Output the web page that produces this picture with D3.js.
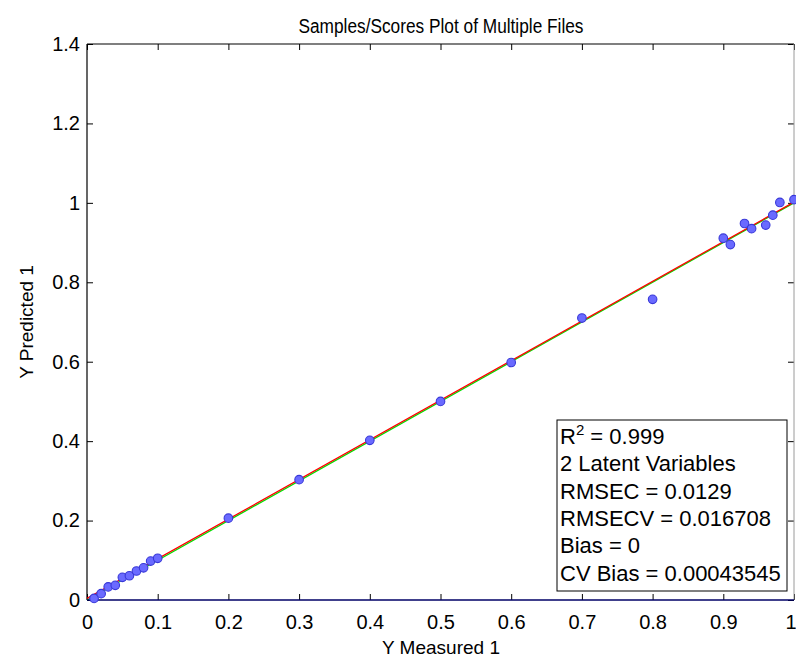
<!DOCTYPE html>
<html>
<head>
<meta charset="utf-8">
<script src="https://cdn.jsdelivr.net/npm/d3@7"></script>
<style>
  body { margin: 0; background: #fff; }
  text { font-family: "Liberation Sans", Arial, Helvetica, sans-serif; fill: #000; }
</style>
</head>
<body>
<svg id="chart" width="796" height="659"></svg>
<script>
// Calibration samples: measured vs predicted response
const measured  = [0.01, 0.02, 0.03, 0.04, 0.05, 0.06, 0.07, 0.08, 0.09, 0.10,
                   0.20, 0.30, 0.40, 0.50, 0.60, 0.70, 0.80,
                   0.90, 0.91, 0.93, 0.94, 0.96, 0.97, 0.98, 1.00];
const predicted = [0.004, 0.016, 0.033, 0.037, 0.057, 0.061, 0.073, 0.081, 0.098, 0.105,
                   0.206, 0.303, 0.402, 0.500, 0.598, 0.710, 0.757,
                   0.911, 0.895, 0.948, 0.935, 0.944, 0.969, 1.001, 1.008];

// Regression fit (red) and ideal 1:1 target (green)
const fitIntercept = 0.004;
const fitSlope = 0.998;
const targetIntercept = 0;
const targetSlope = 1;

const xTickValues = [0, 0.1, 0.2, 0.3, 0.4, 0.5, 0.6, 0.7, 0.8, 0.9, 1];
const yTickValues = [0, 0.2, 0.4, 0.6, 0.8, 1, 1.2, 1.4];

const titleText = "Samples/Scores Plot of Multiple Files";
const xLabelText = "Y Measured 1";
const yLabelText = "Y Predicted 1";
const statsLines = ["= 0.999", "2 Latent Variables", "RMSEC = 0.0129",
                    "RMSECV = 0.016708", "Bias = 0", "CV Bias = 0.00043545"];

const svg = d3.select("#chart");
svg.append("rect").attr("width", 796).attr("height", 659).attr("fill", "#fff");

const plotLeft = 87, plotRight = 794, plotTop = 44, plotBottom = 600;
const x = d3.scaleLinear().domain([0, 1]).range([plotLeft, plotRight]);
const y = d3.scaleLinear().domain([0, 1.4]).range([plotBottom, plotTop]);

const tickLen = 6;
const tickFont = 20;
const fmt = d => String(+d.toFixed(1));

// Bottom axis: labels below, ticks pointing inward
const gx = svg.append("g").attr("transform", `translate(0,${plotBottom})`)
  .call(d3.axisBottom(x).tickValues(xTickValues).tickSize(-tickLen)
    .tickPadding(15).tickFormat(fmt));
gx.select(".domain").remove();
gx.selectAll("text").attr("font-size", tickFont)
  .style("font-family", "'Liberation Sans', Arial, sans-serif");
gx.selectAll("line").attr("stroke", "#000");
// keep the last label inside the page edge
gx.selectAll(".tick text").filter(d => d === xTickValues[xTickValues.length - 1])
  .attr("text-anchor", "end").attr("dx", 796 - plotRight);

// Top axis ticks only
const gxt = svg.append("g").attr("transform", `translate(0,${plotTop})`)
  .call(d3.axisTop(x).tickValues(xTickValues).tickSize(-tickLen).tickFormat(""));
gxt.select(".domain").remove();
gxt.selectAll("line").attr("stroke", "#000");

// Left axis
const gy = svg.append("g").attr("transform", `translate(${plotLeft},0)`)
  .call(d3.axisLeft(y).tickValues(yTickValues).tickSize(-tickLen)
    .tickPadding(7).tickFormat(fmt));
gy.select(".domain").remove();
gy.selectAll("text").attr("font-size", tickFont)
  .style("font-family", "'Liberation Sans', Arial, sans-serif");
gy.selectAll("line").attr("stroke", "#000");

// Right axis ticks only
const gyr = svg.append("g").attr("transform", `translate(${plotRight},0)`)
  .call(d3.axisRight(y).tickValues(yTickValues).tickSize(-tickLen).tickFormat(""));
gyr.select(".domain").remove();
gyr.selectAll("line").attr("stroke", "#000");

// Axes box
svg.append("line").attr("x1", plotLeft).attr("x2", plotRight).attr("y1", plotTop).attr("y2", plotTop)
  .attr("stroke", "#000").attr("stroke-width", 1.2);
svg.append("line").attr("x1", plotLeft).attr("x2", plotLeft).attr("y1", plotTop).attr("y2", plotBottom)
  .attr("stroke", "#000").attr("stroke-width", 1.2);
svg.append("line").attr("x1", plotRight).attr("x2", plotRight).attr("y1", plotTop).attr("y2", plotBottom)
  .attr("stroke", "#9a9a9a").attr("stroke-width", 1);

// Fit lines across the measured range
const lineGen = d3.line().x(d => x(d[0])).y(d => y(d[1]));
const ends = x.domain();
svg.append("path")
  .attr("d", lineGen(ends.map(v => [v, targetIntercept + targetSlope * v])))
  .attr("fill", "none").attr("stroke", "#00e000").attr("stroke-width", 1.3);
svg.append("path")
  .attr("d", lineGen(ends.map(v => [v, fitIntercept + fitSlope * v])))
  .attr("fill", "none").attr("stroke", "#ff0000").attr("stroke-width", 1.3);

// Zero line along the bottom
svg.append("line").attr("x1", plotLeft).attr("x2", plotRight).attr("y1", y(0)).attr("y2", y(0))
  .attr("stroke", "#000066").attr("stroke-width", 1.5);

// Sample markers
svg.append("g").selectAll("circle")
  .data(measured.map((m, i) => [m, predicted[i]]))
  .join("circle")
  .attr("cx", d => x(d[0])).attr("cy", d => y(d[1])).attr("r", 4.3)
  .attr("fill", "#6a6aff").attr("stroke", "#3838d8").attr("stroke-width", 1.1);

// Statistics box
const boxX = 557, boxY = 420, boxW = 230, boxH = 171, lineH = 27.3;
svg.append("rect").attr("x", boxX).attr("y", boxY).attr("width", boxW).attr("height", boxH)
  .attr("fill", "#fff").attr("stroke", "#000").attr("stroke-width", 1);
const stats = svg.append("g").attr("font-size", 22);
statsLines.forEach((s, i) => {
  const t = stats.append("text").attr("x", boxX + 3).attr("y", boxY + 24 + i * lineH);
  if (i === 0) {
    t.append("tspan").text("R");
    t.append("tspan").attr("font-size", 15).attr("dy", -9).text("2");
    t.append("tspan").attr("dy", 9).text(" " + s);
  } else {
    t.text(s);
  }
});

// Title (slightly condensed) and axis labels
svg.append("text").attr("x", 441).attr("y", 33).attr("text-anchor", "middle")
  .attr("font-size", 20).attr("textLength", 285).attr("lengthAdjust", "spacingAndGlyphs")
  .text(titleText);
svg.append("text").attr("x", 441).attr("y", 654).attr("text-anchor", "middle")
  .attr("font-size", 19).text(xLabelText);
svg.append("text").attr("transform", "translate(33,322) rotate(-90)")
  .attr("text-anchor", "middle").attr("font-size", 19).text(yLabelText);
</script>
</body>
</html>
